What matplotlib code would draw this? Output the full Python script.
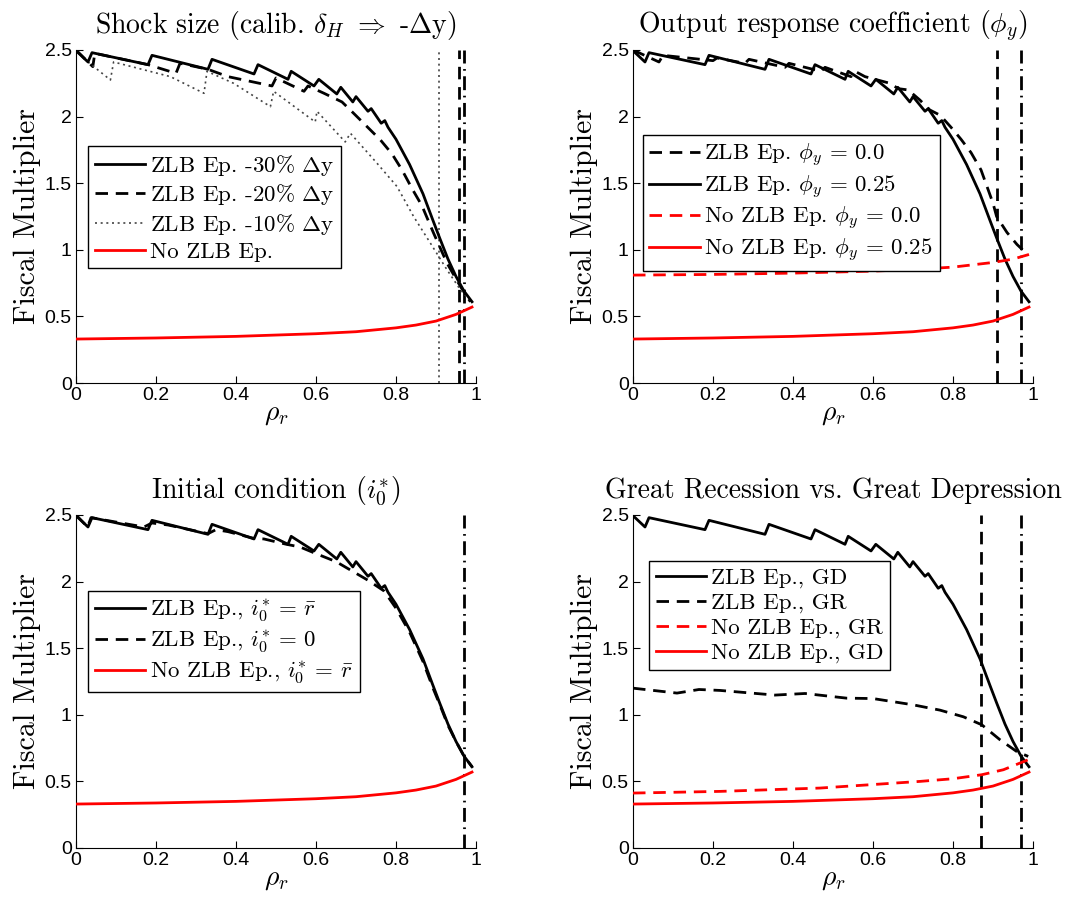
import numpy as np
import matplotlib
matplotlib.use("Agg")
import matplotlib.pyplot as plt

# --- datos ---
# curva base ZLB (igual en los 4 paneles)
rho_zlb = [0, 0.03, 0.04, 0.18, 0.19, 0.33, 0.34, 0.445, 0.455, 0.53, 0.538, 0.595, 0.607,
           0.652, 0.662, 0.692, 0.70, 0.73, 0.738, 0.763, 0.772, 0.78, 0.80, 0.834, 0.8675,
           0.8925, 0.909, 0.93, 0.95, 0.97, 0.99]
fm_zlb = [2.495, 2.41, 2.48, 2.39, 2.46, 2.355, 2.43, 2.32, 2.39, 2.28, 2.34, 2.23, 2.28,
          2.17, 2.22, 2.11, 2.15, 2.04, 2.06, 1.95, 1.97, 1.92, 1.83, 1.64, 1.42,
          1.22, 1.09, 0.93, 0.80, 0.69, 0.61]

# curva base sin ZLB
rho_nozlb = [0, 0.2, 0.4, 0.6, 0.7, 0.8, 0.85, 0.9, 0.95, 0.99]
fm_nozlb = [0.33, 0.338, 0.35, 0.37, 0.385, 0.414, 0.435, 0.465, 0.515, 0.57]

# shock -20%
rho_20 = [0, 0.03, 0.042, 0.047, 0.18, 0.25, 0.26, 0.33, 0.38, 0.49, 0.50, 0.57, 0.58, 0.62,
          0.665, 0.694, 0.7275, 0.761, 0.79, 0.815, 0.84, 0.865, 0.894, 0.9275, 0.961, 0.986]
fm_20 = [2.5, 2.41, 2.375, 2.475, 2.39, 2.325, 2.40, 2.355, 2.30, 2.23, 2.29, 2.19, 2.23, 2.175,
         2.11, 2.025, 1.925, 1.825, 1.72, 1.60, 1.46, 1.33, 1.125, 0.90, 0.725, 0.61]

# shock -10%
rho_10 = [0, 0.03, 0.086, 0.094, 0.236, 0.32, 0.3275, 0.394, 0.486, 0.494, 0.598, 0.6025,
          0.673, 0.686, 0.7525, 0.8025, 0.844, 0.886, 0.9275, 0.961, 0.985]
fm_10 = [2.5, 2.41, 2.275, 2.41, 2.30, 2.175, 2.34, 2.25, 2.075, 2.19, 1.96, 2.04,
         1.81, 1.875, 1.65, 1.475, 1.25, 1.05, 0.85, 0.70, 0.62]

# phi_y = 0
rho_phi0 = [0, 0.065, 0.075, 0.20, 0.21, 0.28, 0.29, 0.38, 0.39, 0.47, 0.48, 0.545, 0.555, 0.58,
            0.6425, 0.663, 0.688, 0.717, 0.742, 0.768, 0.795, 0.82, 0.845, 0.87, 0.9, 0.909,
            0.935, 0.96, 0.988]
fm_phi0 = [2.5, 2.41, 2.46, 2.42, 2.44, 2.40, 2.43, 2.37, 2.40, 2.34, 2.37, 2.30, 2.34, 2.30,
           2.25, 2.21, 2.20, 2.125, 2.05, 2.01, 1.92, 1.83, 1.73, 1.60, 1.35, 1.25,
           1.13, 1.04, 0.96]
rho_nozlb_phi0 = [0, 0.2, 0.4, 0.6, 0.7, 0.8, 0.9, 0.95, 0.99]
fm_nozlb_phi0 = [0.81, 0.815, 0.825, 0.84, 0.852, 0.87, 0.905, 0.93, 0.965]

# i0* = 0
rho_i0 = [0, 0.029, 0.0375, 0.17, 0.19, 0.23, 0.33, 0.35, 0.38, 0.444, 0.47, 0.526, 0.56, 0.60,
          0.65, 0.69, 0.73, 0.77, 0.80, 0.834, 0.8675, 0.8925, 0.909, 0.93, 0.95, 0.97, 0.99]
fm_i0 = [2.5, 2.41, 2.48, 2.41, 2.44, 2.425, 2.36, 2.39, 2.375, 2.325, 2.32, 2.28, 2.26, 2.21,
         2.15, 2.08, 2.01, 1.93, 1.80, 1.62, 1.40, 1.20, 1.08, 0.92, 0.80, 0.69, 0.61]

# Great Recession
rho_gr = [0, 0.11, 0.165, 0.2175, 0.355, 0.43, 0.534, 0.6, 0.70, 0.7675, 0.826, 0.872,
          0.9175, 0.959, 0.988]
fm_gr = [1.2, 1.163, 1.19, 1.183, 1.148, 1.16, 1.125, 1.122, 1.075, 1.035, 0.985, 0.925,
         0.8125, 0.725, 0.6875]
rho_nozlb_gr = [0, 0.2175, 0.4675, 0.7175, 0.8, 0.8717, 0.926, 0.988]
fm_nozlb_gr = [0.4125, 0.425, 0.45, 0.5, 0.52, 0.55, 0.5875, 0.6625]

# lineas verticales
vl_tl = [0.907, 0.957, 0.969]
vl_tr = [0.909, 0.97]
vl_bl = [0.969]
vl_br = [0.87, 0.97]

titulos = [r'Shock size (calib. $\delta_H$ $\Rightarrow$ -$\Delta$y)',
           r'Output response coefficient ($\phi_y$)',
           r'Initial condition ($i_0^{*}$)',
           'Great Recession vs. Great Depression']

# --- estilo ---
plt.rcParams['mathtext.fontset'] = 'cm'
plt.rcParams['font.family'] = ['Liberation Sans', 'DejaVu Sans']
SERIF = 'cmr10'
LW = 2.0
DASH = (0, (4.5, 2.8))
DASHDOT = (0, (5, 2, 0.6, 2))
DOT = (0, (1.2, 2.2))

fig = plt.figure(figsize=(10.76, 9), dpi=100)
W, H = 400 / 1076, 333 / 900
ax_tl = fig.add_axes([76 / 1076, 1 - 383 / 900, W, H])
ax_tr = fig.add_axes([633 / 1076, 1 - 383 / 900, W, H])
ax_bl = fig.add_axes([76 / 1076, 1 - 848 / 900, W, H])
ax_br = fig.add_axes([633 / 1076, 1 - 848 / 900, W, H])


def vlinea(ax, x, ls, lw=LW, color='k'):
    ax.axvline(x, color=color, linestyle=ls, linewidth=lw, zorder=1)


# 1. Shock size
ax = ax_tl
ax.plot(rho_zlb, fm_zlb, color='k', lw=LW, label=r'ZLB Ep. -30% $\Delta$y', zorder=4)
ax.plot(rho_20, fm_20, color='k', lw=LW, ls=DASH, label=r'ZLB Ep. -20% $\Delta$y', zorder=3)
ax.plot(rho_10, fm_10, color='#444444', lw=1.2, ls=DOT, label=r'ZLB Ep. -10% $\Delta$y', zorder=3)
ax.plot(rho_nozlb, fm_nozlb, color='r', lw=LW, label='No ZLB Ep.', zorder=4)
vlinea(ax, vl_tl[0], DOT, lw=1.2, color='#444444')
vlinea(ax, vl_tl[1], DASH)
vlinea(ax, vl_tl[2], DASHDOT)
leg_pos = {ax_tl: (0.03, 0.712)}

# 2. Output response
ax = ax_tr
ax.plot(rho_phi0, fm_phi0, color='k', lw=LW, ls=DASH, label=r'ZLB Ep. $\phi_y$ = 0.0', zorder=3)
ax.plot(rho_zlb, fm_zlb, color='k', lw=LW, label=r'ZLB Ep. $\phi_y$ = 0.25', zorder=4)
ax.plot(rho_nozlb_phi0, fm_nozlb_phi0, color='r', lw=LW, ls=DASH, label=r'No ZLB Ep. $\phi_y$ = 0.0', zorder=4)
ax.plot(rho_nozlb, fm_nozlb, color='r', lw=LW, label=r'No ZLB Ep. $\phi_y$ = 0.25', zorder=4)
vlinea(ax, vl_tr[0], DASH)
vlinea(ax, vl_tr[1], DASHDOT)
leg_pos[ax_tr] = (0.024, 0.745)

# 3. Initial condition
ax = ax_bl
ax.plot(rho_zlb, fm_zlb, color='k', lw=LW, label=r'ZLB Ep., $i_0^{*}$ = $\bar{r}$', zorder=4)
ax.plot(rho_i0, fm_i0, color='k', lw=LW, ls=DASH, label=r'ZLB Ep., $i_0^{*}$ = 0', zorder=3)
ax.plot(rho_nozlb, fm_nozlb, color='r', lw=LW, label=r'No ZLB Ep., $i_0^{*}$ = $\bar{r}$', zorder=4)
vlinea(ax, vl_bl[0], DASHDOT)
leg_pos[ax_bl] = (0.03, 0.773)

# 4. GR vs GD
ax = ax_br
ax.plot(rho_zlb, fm_zlb, color='k', lw=LW, label='ZLB Ep., GD', zorder=4)
ax.plot(rho_gr, fm_gr, color='k', lw=LW, ls=DASH, label='ZLB Ep., GR', zorder=3)
ax.plot(rho_nozlb_gr, fm_nozlb_gr, color='r', lw=LW, ls=DASH, label='No ZLB Ep., GR', zorder=4)
ax.plot(rho_nozlb, fm_nozlb, color='r', lw=LW, label='No ZLB Ep., GD', zorder=4)
vlinea(ax, vl_br[0], DASH)
vlinea(ax, vl_br[1], DASHDOT)
leg_pos[ax_br] = (0.04, 0.863)

for ax, titulo in zip([ax_tl, ax_tr, ax_bl, ax_br], titulos):
    ax.set_xlim(0, 1)
    ax.set_ylim(0, 2.5)
    ax.set_xticks([0, 0.2, 0.4, 0.6, 0.8, 1])
    ax.set_xticklabels(['0', '0.2', '0.4', '0.6', '0.8', '1'])
    ax.set_yticks([0, 0.5, 1, 1.5, 2, 2.5])
    ax.set_yticklabels(['0', '0.5', '1', '1.5', '2', '2.5'])
    ax.tick_params(direction='in', labelsize=14, length=5, width=0.8, pad=3)
    for s in ['top', 'right']:
        ax.spines[s].set_visible(False)
    for s in ['left', 'bottom']:
        ax.spines[s].set_linewidth(0.8)
    ax.set_title(titulo, fontfamily=SERIF, fontsize=20, pad=12)
    ax.set_ylabel('Fiscal Multiplier', fontfamily=SERIF, fontsize=21.5, labelpad=3)
    ax.set_xlabel(r'$\rho_r$', fontsize=20, labelpad=-2)
    leg = ax.legend(loc='upper left', bbox_to_anchor=leg_pos[ax], borderaxespad=0,
                    prop={'family': SERIF, 'size': 16.5}, fancybox=False, framealpha=1,
                    edgecolor='k', handlelength=2.2, handletextpad=0.2,
                    labelspacing=0.2, borderpad=0.3)
    leg.get_frame().set_linewidth(1.0)

fig.savefig('out.png', dpi=100, facecolor='white')
